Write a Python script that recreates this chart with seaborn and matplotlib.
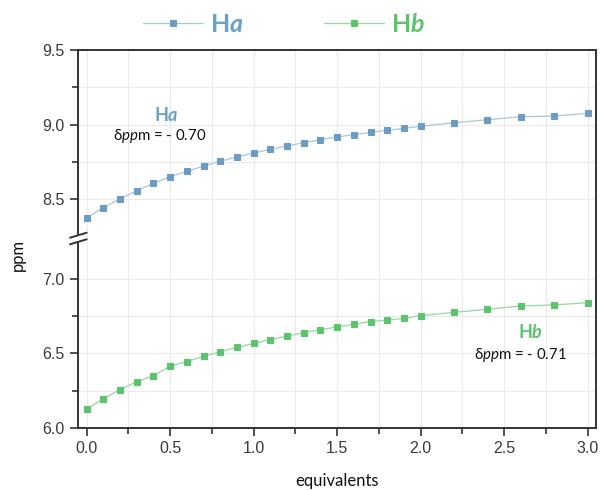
import matplotlib
matplotlib.use("Agg")
import matplotlib.pyplot as plt
import seaborn as sns
import pandas as pd
from matplotlib.ticker import FixedLocator, MultipleLocator
from matplotlib.lines import Line2D
from matplotlib.patches import Rectangle

# ---- data ----
equivalents = [0.0, 0.1, 0.2, 0.3, 0.4, 0.5, 0.6, 0.7, 0.8, 0.9, 1.0,
               1.1, 1.2, 1.3, 1.4, 1.5, 1.6, 1.7, 1.8, 1.9, 2.0,
               2.2, 2.4, 2.6, 2.8, 3.0]
ha_ppm = [8.375, 8.442, 8.500, 8.556, 8.605, 8.650, 8.686, 8.721, 8.753, 8.782,
          8.809, 8.833, 8.856, 8.878, 8.898, 8.916, 8.932, 8.947, 8.961, 8.974,
          8.988, 9.012, 9.032, 9.052, 9.057, 9.075]
hb_ppm = [6.128, 6.197, 6.258, 6.311, 6.351, 6.416, 6.445, 6.481, 6.512, 6.541,
          6.568, 6.593, 6.617, 6.640, 6.660, 6.678, 6.697, 6.714, 6.725, 6.736,
          6.754, 6.776, 6.797, 6.819, 6.826, 6.841]
x_ticks = [0.0, 0.5, 1.0, 1.5, 2.0, 2.5, 3.0]
x_tick_labels = ["0.0", "0.5", "1.0", "1.5", "2.0", "2.5", "3.0"]
upper_ticks = [8.5, 9.0, 9.5]
lower_ticks = [6.0, 6.5, 7.0]

df = pd.DataFrame({"equivalents": equivalents, "Ha": ha_ppm, "Hb": hb_ppm})

sns.set_theme(style="white")
plt.rcParams["font.family"] = ["Liberation Sans", "DejaVu Sans"]
plt.rcParams["mathtext.fontset"] = "custom"
plt.rcParams["mathtext.rm"] = "Lato"
plt.rcParams["mathtext.it"] = "Lato:italic"
plt.rcParams["mathtext.bf"] = "Lato:bold"
plt.rcParams["mathtext.bfit"] = "Lato:bold:italic"

W, H = 600, 490
fig = plt.figure(figsize=(6, 4.9), dpi=100)

def fx(px):
    return px / W

def fy(py):
    return 1 - py / H

left, right = 78, 596
top, mid, bottom = 50, 238.5, 428
ax_top = fig.add_axes([fx(left), fy(mid), fx(right - left), fy(top) - fy(mid)])
ax_bot = fig.add_axes([fx(left), fy(bottom), fx(right - left), fy(mid) - fy(bottom)])

ha_line_c, ha_mark_c = "#a9c6dd", "#6c9bc3"
hb_line_c, hb_mark_c = "#93d99e", "#5cc46c"

sns.lineplot(data=df, x="equivalents", y="Ha", ax=ax_top, color=ha_line_c, lw=0.9,
             marker="s", markersize=4, markerfacecolor=ha_mark_c,
             markeredgecolor=ha_mark_c)
sns.lineplot(data=df, x="equivalents", y="Hb", ax=ax_bot, color=hb_line_c, lw=0.9,
             marker="s", markersize=4, markerfacecolor=hb_mark_c,
             markeredgecolor=hb_mark_c)

px_per_unit = 149.0
ax_top.set_ylim(9.5 - (mid - top) / px_per_unit, 9.5)
ax_bot.set_ylim(6.0, 6.0 + (bottom - mid) / px_per_unit)

for ax in (ax_top, ax_bot):
    ax.set_xlim(-0.052, 3.05)
    ax.set_xlabel("")
    ax.set_ylabel("")
    ax.xaxis.set_major_locator(FixedLocator(x_ticks))
    ax.xaxis.set_minor_locator(MultipleLocator(0.25))
    ax.grid(True, which="both", axis="x", color="#ebebeb", lw=0.8)
    ax.grid(True, which="both", axis="y", color="#ebebeb", lw=0.8)
    ax.set_axisbelow(True)
    for s in ax.spines.values():
        s.set_color("#333333")
        s.set_linewidth(1.4)
    ax.tick_params(axis="both", which="major", direction="out", length=6,
                   width=1.2, color="#333333", labelsize=11.5, labelcolor="#3a3a3a",
                   left=True, bottom=True)
    ax.tick_params(axis="both", which="minor", direction="out", length=4,
                   width=1.2, color="#333333", left=True, bottom=True)

ax_top.yaxis.set_major_locator(FixedLocator(upper_ticks))
ax_top.yaxis.set_minor_locator(FixedLocator([8.75, 9.25]))
ax_top.set_yticklabels([f"{t:.1f}" for t in upper_ticks])
ax_bot.yaxis.set_major_locator(FixedLocator(lower_ticks))
ax_bot.yaxis.set_minor_locator(FixedLocator([6.25, 6.75]))
ax_bot.set_yticklabels([f"{t:.1f}" for t in lower_ticks])
ax_bot.set_xticklabels(x_tick_labels)

ax_top.spines["bottom"].set_visible(False)
ax_bot.spines["top"].set_visible(False)
ax_top.tick_params(axis="x", which="both", bottom=False, labelbottom=False)

# axis break marks on the left spine
fig.add_artist(Rectangle((fx(74), fy(241.5)), fx(8), fy(235.5) - fy(241.5),
                         transform=fig.transFigure, facecolor="white",
                         edgecolor="none", zorder=5))
for y0 in (237.7, 244.3):
    fig.add_artist(Line2D([fx(70), fx(86.7)], [fy(y0), fy(y0 - 5)],
                          transform=fig.transFigure, color="#333333", lw=1.4,
                          zorder=6))

# annotations
lato = ["Lato", "DejaVu Sans"]
ax_top.text(0.475, 9.06, r"$\mathbf{H}\mathbfit{a}$", color="#6a9fc8",
            fontsize=13, ha="center", va="center")
ax_top.text(0.44, 8.92, r"δ$\mathit{pp}$m = - 0.70", color="#111111",
            fontsize=10.8, ha="center", va="center", family=lato)
ax_bot.text(2.66, 6.64, r"$\mathbf{H}\mathbfit{b}$", color="#5cc46c",
            fontsize=13, ha="center", va="center")
ax_bot.text(2.60, 6.49, r"δ$\mathit{pp}$m = - 0.71", color="#111111",
            fontsize=10.8, ha="center", va="center", family=lato)

# axis labels
fig.text(fx(18), fy(255), "ppm", rotation=90, ha="center", va="center",
         fontsize=12, family=lato, color="#111111")
fig.text(fx(337), fy(481), "equivalents", ha="center", va="center",
         fontsize=12, family=lato, color="#111111")

# legend
leg = fig.legend(handles=[ax_top.lines[0], ax_bot.lines[0]],
                 labels=[r"$\mathbf{H}\mathbfit{a}$", r"$\mathbf{H}\mathbfit{b}$"],
                 loc="center", bbox_to_anchor=(fx(284), fy(25)), ncol=2,
                 frameon=False, fontsize=18, handlelength=2.4,
                 handletextpad=0.3, columnspacing=3.2, markerscale=1.1)
leg.get_texts()[0].set_color("#6aa0c8")
leg.get_texts()[1].set_color("#5cc46c")

fig.savefig("out.png", dpi=100)
